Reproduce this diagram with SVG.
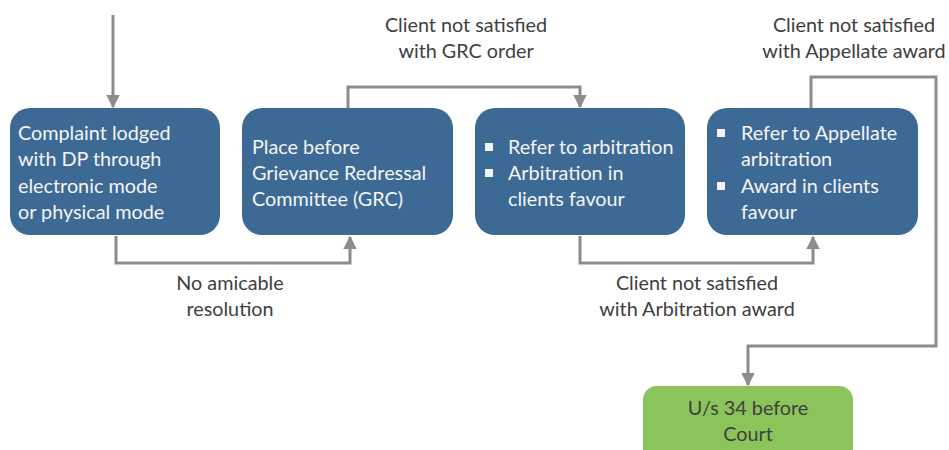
<svg xmlns="http://www.w3.org/2000/svg" width="949" height="450" viewBox="0 0 949 450">
<defs>
<style>
.box{fill:#3d6a94}
.green{fill:#8bc45a}
.nt{font-family:Lato,"Liberation Sans",sans-serif;font-size:19.8px;fill:#f4f4f4}
.lt{font-family:Lato,"Liberation Sans",sans-serif;font-size:19.8px;fill:#404040;text-anchor:middle}
.gt{font-family:Lato,"Liberation Sans",sans-serif;font-size:19.8px;fill:#404040;text-anchor:middle}
.c{fill:none;stroke:#8c8c8c;stroke-width:3}
.b{fill:#f4f4f4}
</style>
<marker id="ah" viewBox="0 0 10 10" refX="9" refY="5" markerWidth="4.5" markerHeight="4.5" orient="auto" markerUnits="strokeWidth">
<path d="M0,0 L10,5 L0,10 z" fill="#8c8c8c"/>
</marker>
</defs>
<rect width="949" height="450" fill="#ffffff"/>
<g id="connectors">
<path class="c" d="M113,15 V107" marker-end="url(#ah)"/>
<path class="c" d="M116,236 V263 H350 V237" marker-end="url(#ah)"/>
<path class="c" d="M348,108 V87 H580 V107" marker-end="url(#ah)"/>
<path class="c" d="M580,236 V263 H813 V237" marker-end="url(#ah)"/>
<path class="c" d="M811,108 V77 H936 V346 H748 V385" marker-end="url(#ah)"/>
</g>
<g id="labels">
<text class="lt" x="466" y="32">Client not satisfied</text>
<text class="lt" x="466" y="58">with GRC order</text>
<text class="lt" x="854" y="32">Client not satisfied</text>
<text class="lt" x="854" y="58">with Appellate award</text>
<text class="lt" x="230" y="290">No amicable</text>
<text class="lt" x="230" y="316">resolution</text>
<text class="lt" x="697" y="290">Client not satisfied</text>
<text class="lt" x="697" y="316">with Arbitration award</text>
</g>
<g id="n1">
<rect class="box" x="10" y="108" width="210" height="127" rx="20"/>
<text class="nt" x="18" y="140">Complaint lodged</text>
<text class="nt" x="18" y="166">with DP through</text>
<text class="nt" x="18" y="193">electronic mode</text>
<text class="nt" x="18" y="219">or physical mode</text>
</g>
<g id="n2">
<rect class="box" x="242" y="108" width="211" height="127" rx="20"/>
<text class="nt" x="252" y="154">Place before</text>
<text class="nt" x="252" y="180">Grievance Redressal</text>
<text class="nt" x="252" y="206">Committee (GRC)</text>
</g>
<g id="n3">
<rect class="box" x="475" y="108" width="210" height="127" rx="20"/>
<rect class="b" x="485" y="143" width="8" height="8"/>
<text class="nt" x="508" y="154">Refer to arbitration</text>
<rect class="b" x="485" y="169" width="8" height="8"/>
<text class="nt" x="508" y="180">Arbitration in</text>
<text class="nt" x="508" y="206">clients favour</text>
</g>
<g id="n4">
<rect class="box" x="707" y="108" width="211" height="127" rx="20"/>
<rect class="b" x="717" y="129" width="8" height="8"/>
<text class="nt" x="741" y="140">Refer to Appellate</text>
<text class="nt" x="741" y="166">arbitration</text>
<rect class="b" x="717" y="182" width="8" height="8"/>
<text class="nt" x="741" y="193">Award in clients</text>
<text class="nt" x="741" y="219">favour</text>
</g>
<g id="n5">
<rect class="green" x="643" y="386" width="210" height="80" rx="14"/>
<text class="gt" x="748" y="415">U/s 34 before</text>
<text class="gt" x="748" y="441">Court</text>
</g>
</svg>
